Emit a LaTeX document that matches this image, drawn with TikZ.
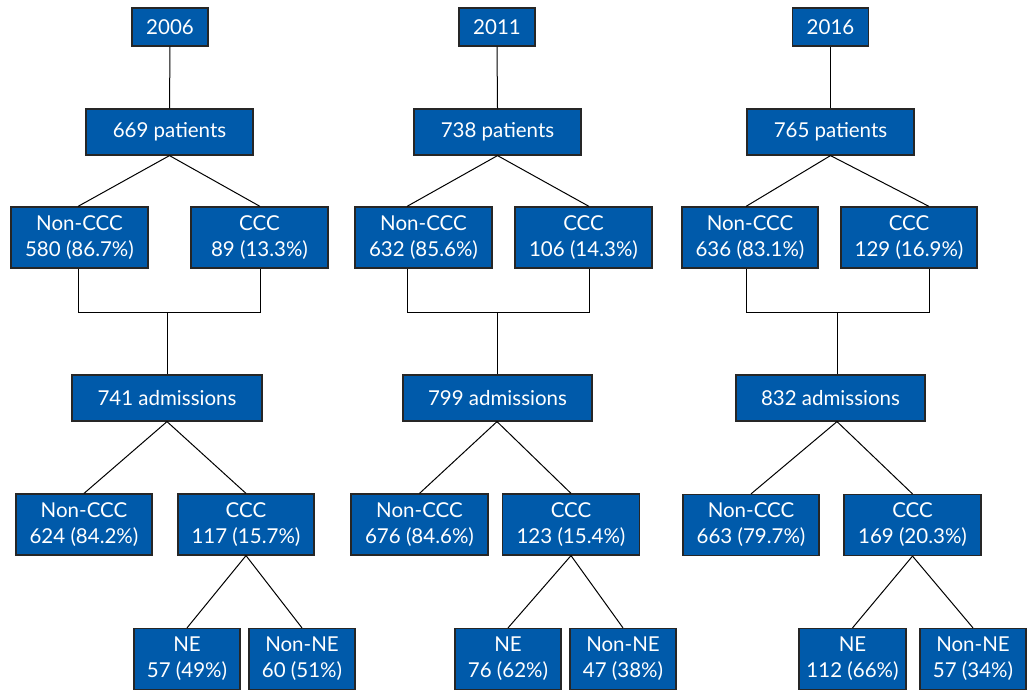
\documentclass[tikz,border=0pt]{standalone}
\usepackage{fontspec}
\setmainfont{Lato}
\usepackage{xcolor}
\definecolor{boxblue}{RGB}{0,90,170}

\begin{document}
\begin{tikzpicture}[
  x=1pt,
  y=-1pt,
  box/.style={
    draw=black!85,
    line width=1.2pt,
    fill=boxblue,
    text=white,
    inner sep=0pt,
    align=center,
    font=\fontsize{20.5}{26}\selectfont
  },
  yearbox/.style={box, minimum width=76, minimum height=38},
  countbox/.style={box, minimum width=#1, minimum height=46},
  splitbox/.style={box, minimum width=#1, minimum height=61},
  link/.style={draw=black, line width=1pt}
]
  \useasboundingbox (0,0) rectangle (1032,690);

  \node[yearbox] (year1) at (170,27) {2006};
  \node[countbox=167] (pat1) at (169.5,132) {669 patients};
  \node[splitbox=137] (non1) at (79.5,237.5) {Non-CCC\\580 (86.7\%)};
  \node[splitbox=137] (ccc1) at (259.5,237.5) {CCC\\89 (13.3\%)};
  \node[countbox=190] (adm1) at (167,398) {741 admissions};
  \node[splitbox=136] (nonadm1) at (84,524.5) {Non-CCC\\624 (84.2\%)};
  \node[splitbox=136] (cccadm1) at (246,524.5) {CCC\\117 (15.7\%)};
  \node[splitbox=106] (ne1) at (187,659) {NE\\57 (49\%)};
  \node[splitbox=106] (nonne1) at (302,659) {Non-NE\\60 (51\%)};
  \coordinate (l1) at (78,312);
  \coordinate (r1) at (260,312);
  \coordinate (j1) at (167,312);

  \node[yearbox] (year2) at (497,27) {2011};
  \node[countbox=167] (pat2) at (497.5,132) {738 patients};
  \node[splitbox=137] (non2) at (423.5,237.5) {Non-CCC\\632 (85.6\%)};
  \node[splitbox=137] (ccc2) at (583.5,237.5) {CCC\\106 (14.3\%)};
  \node[countbox=189] (adm2) at (497.5,398) {799 admissions};
  \node[splitbox=137] (nonadm2) at (419.5,524.5) {Non-CCC\\676 (84.6\%)};
  \node[splitbox=137] (cccadm2) at (571,524.5) {CCC\\123 (15.4\%)};
  \node[splitbox=106] (ne2) at (508,659) {NE\\76 (62\%)};
  \node[splitbox=106] (nonne2) at (623,659) {Non-NE\\47 (38\%)};
  \coordinate (l2) at (407,312);
  \coordinate (r2) at (589,312);
  \coordinate (j2) at (497,312);

  \node[yearbox] (year3) at (830.5,27) {2016};
  \node[countbox=167] (pat3) at (830.5,132) {765 patients};
  \node[splitbox=136] (non3) at (750,237.5) {Non-CCC\\636 (83.1\%)};
  \node[splitbox=136] (ccc3) at (909,237.5) {CCC\\129 (16.9\%)};
  \node[countbox=189] (adm3) at (830.5,398) {832 admissions};
  \node[splitbox=136] (nonadm3) at (751,525) {Non-CCC\\663 (79.7\%)};
  \node[splitbox=137] (cccadm3) at (912.5,525) {CCC\\169 (20.3\%)};
  \node[splitbox=107] (ne3) at (852.5,659) {NE\\112 (66\%)};
  \node[splitbox=106] (nonne3) at (973,659) {Non-NE\\57 (34\%)};
  \coordinate (l3) at (746,312);
  \coordinate (r3) at (929,312);
  \coordinate (j3) at (837,312);

  \foreach \c in {1,2,3} {
    \draw[link] (year\c.south) -- (pat\c.north);
    \draw[link] (pat\c.south) -- (non\c.north -| l\c);
    \draw[link] (pat\c.south) -- (ccc\c.north -| r\c);
    \draw[link] (non\c.south -| l\c) -- (l\c) -- (r\c) -- (ccc\c.south -| r\c);
    \draw[link] (j\c) -- (adm\c.north -| j\c);
    \draw[link] (adm\c.south -| j\c) -- (nonadm\c.north);
    \draw[link] (adm\c.south -| j\c) -- (cccadm\c.north);
    \draw[link] (cccadm\c.south) -- (ne\c.north);
    \draw[link] (cccadm\c.south) -- (nonne\c.north);
  }
\end{tikzpicture}
\end{document}
